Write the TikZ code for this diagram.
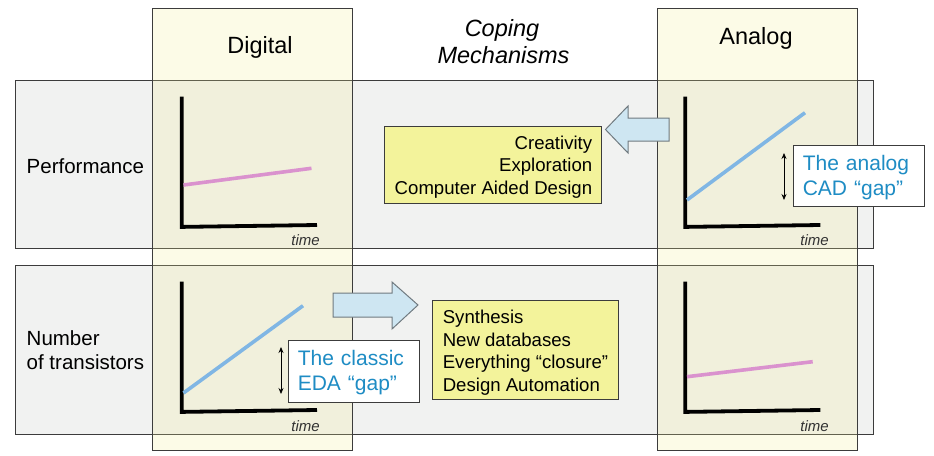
\documentclass[tikz,border=0pt]{standalone}
\usepackage{fontspec}
\setmainfont{Liberation Sans}
\usetikzlibrary{arrows.meta}
\definecolor{rowfill}{RGB}{241,242,241}
\definecolor{colfill}{RGB}{241,236,147}
\definecolor{edge}{RGB}{60,60,60}
\definecolor{boxfill}{RGB}{243,243,155}
\definecolor{arrfill}{RGB}{206,230,242}
\definecolor{arredge}{RGB}{112,122,128}
\definecolor{pinkline}{RGB}{218,146,206}
\definecolor{blueline}{RGB}{128,182,228}
\definecolor{bluetext}{RGB}{30,140,196}
\definecolor{timegray}{RGB}{50,50,50}
\tikzset{
  rowband/.style={fill=rowfill, draw=edge, line width=0.8pt},
  colband/.style={fill=colfill, fill opacity=0.22, draw=edge, draw opacity=1, line width=0.8pt},
  axis/.style={line width=3.8pt, line cap=butt},
  trend/.style={line width=3.6pt},
  timelbl/.style={font=\fontsize{15}{18}\selectfont\itshape, text=timegray, anchor=base east, inner sep=0pt},
  heading/.style={font=\fontsize{23.5}{27.5}\selectfont, anchor=base, inner sep=0pt},
  rowlbl/.style={font=\fontsize{20.5}{24}\selectfont, inner sep=0pt, anchor=west, align=left},
  yellowbox/.style={fill=boxfill, draw=edge, line width=0.8pt},
  yellowtext/.style={font=\fontsize{18.6}{22.5}\selectfont, inner sep=0pt},
  gapbox/.style={fill=white, draw=edge, line width=0.8pt, minimum width=131pt},
  gaptext/.style={text=bluetext, font=\fontsize{21}{25}\selectfont, align=left, inner sep=0pt, text width=111pt},
  fatarrow/.style={fill=arrfill, draw=arredge, line width=1pt, line join=miter},
  gaparrow/.style={{Stealth[length=6pt,width=5pt]}-{Stealth[length=6pt,width=5pt]}, line width=0.8pt},
}
\begin{document}
\begin{tikzpicture}[x=1pt,y=-1pt]
\useasboundingbox (0,0) rectangle (934,455);
% rows
\path[rowband] (15,80) rectangle (873.5,248.5);
\path[rowband] (15,265) rectangle (873.5,434);
% columns
\path[colband] (152,8.5) rectangle (352,450);
\path[colband] (657,8.5) rectangle (857.5,450);
% headings
\node[heading] (hdig) at (260,53) {Digital};
\node[heading] (hana) at (756,44) {Analog};
\node[heading, font=\fontsize{23.5}{27.5}\selectfont\itshape] (hcop1) at (502,36) {Coping};
\node[heading, font=\fontsize{23.5}{27.5}\selectfont\itshape] (hcop2) at (503.5,63.5) {Mechanisms};
% row labels
\node[rowlbl, anchor=base west] (lperf) at (26.5,173) {Performance};
\node[rowlbl] (lnum) at (26.5,350) {Number\\of transistors};
% graph digital performance
\coordinate (d1top) at (181.7,96.7);
\coordinate (d1org) at (181.7,225);
\coordinate (d1end) at (317,225);
\draw[axis] (d1top) -- ([yshift=-1.9pt]d1org) -- (d1end);
\coordinate (d1a) at (183.5,185);
\coordinate (d1b) at (311.5,168.3);
\draw[trend, pinkline] (d1a) -- (d1b);
\node[timelbl] (t1) at (320,245) {time};
% graph analog performance
\coordinate (a1top) at (685.3,96.7);
\coordinate (a1org) at (685.3,225);
\coordinate (a1end) at (820.3,225);
\draw[axis] (a1top) -- ([yshift=-1.9pt]a1org) -- (a1end);
\coordinate (a1a) at (687,200);
\coordinate (a1b) at (805,112.7);
\draw[trend, blueline] (a1a) -- (a1b);
\node[timelbl] (t2) at (829,245) {time};
% graph digital transistors
\coordinate (d2top) at (181.7,281.7);
\coordinate (d2org) at (181.7,410);
\coordinate (d2end) at (317,410);
\draw[axis] (d2top) -- ([yshift=-1.9pt]d2org) -- (d2end);
\coordinate (d2a) at (183.5,393);
\coordinate (d2b) at (303,305.7);
\draw[trend, blueline] (d2a) -- (d2b);
\node[timelbl] (t3) at (320,431) {time};
% graph analog transistors
\coordinate (a2top) at (685.3,281.7);
\coordinate (a2org) at (685.3,410);
\coordinate (a2end) at (820.3,410);
\draw[axis] (a2top) -- ([yshift=-1.9pt]a2org) -- (a2end);
\coordinate (a2a) at (687,376.7);
\coordinate (a2b) at (812.7,361.7);
\draw[trend, pinkline] (a2a) -- (a2b);
\node[timelbl] (t4) at (829,431) {time};
% fat arrows
\draw[fatarrow] (669,118) -- (628,118) -- (628,106) -- (605.5,129.5) -- (628,153) -- (628,141) -- (669,141) -- cycle;
\draw[fatarrow] (333,293) -- (392,293) -- (392,282) -- (418,305) -- (392,329) -- (392,317) -- (333,317) -- cycle;
% yellow boxes
\node[yellowbox, minimum width=217pt, minimum height=77pt] (ybox1) at (492.5,164.5) {};
\node[yellowtext, align=right, anchor=east] (ytext1) at ([xshift=-9pt,yshift=-2.5pt]ybox1.east) {Creativity\\Exploration\\Computer Aided Design};
\node[yellowbox, minimum width=186pt, minimum height=99pt] (ybox2) at (525,349.5) {};
\node[yellowtext, align=left, anchor=west] (ytext2) at ([xshift=11pt,yshift=-3pt]ybox2.west) {Synthesis\\New databases\\Everything “closure”\\Design Automation};
% gap boxes
\node[gapbox, minimum height=61pt] (gap1) at (858.5,175.5) {};
\node[gaptext, anchor=west] (gtext1) at ([xshift=10pt,yshift=-2pt]gap1.west) {The analog\\CAD “gap”};
\node[gapbox, minimum height=62pt] (gap2) at (353.5,371) {};
\node[gaptext, anchor=west] (gtext2) at ([xshift=10pt,yshift=-2pt]gap2.west) {The classic\\EDA “gap”};
% gap arrows
\coordinate (g1t) at (784,153);
\coordinate (g1b) at (784,200);
\draw[gaparrow] (g1t) -- (g1b);
\coordinate (g2t) at (281,347);
\coordinate (g2b) at (281,394);
\draw[gaparrow] (g2t) -- (g2b);
\end{tikzpicture}
\end{document}
